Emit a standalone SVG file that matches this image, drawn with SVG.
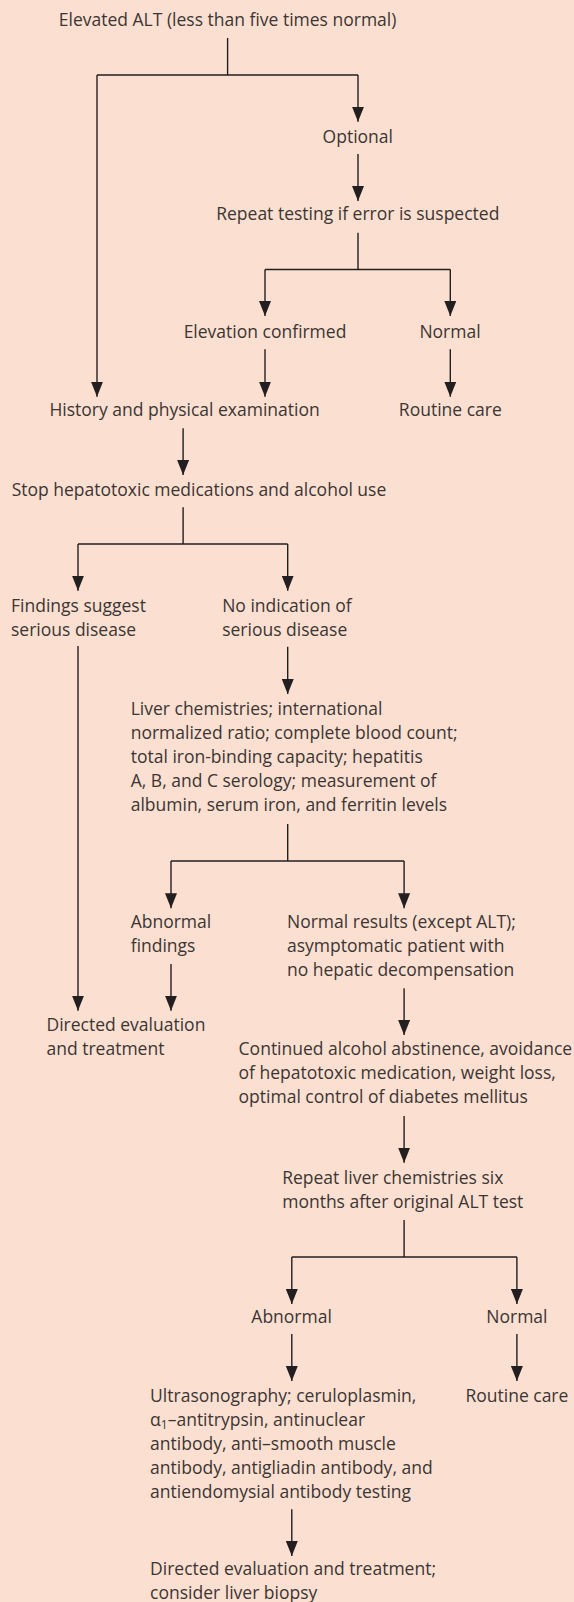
<svg xmlns="http://www.w3.org/2000/svg" width="574" height="1602" viewBox="0 0 574 1602">
<style>
text{font-family:"Open Sans","Noto Sans","Liberation Sans",sans-serif;font-size:17.5px;fill:#3b3533}
.c{text-anchor:middle}
.ln{fill:none;stroke:#231f20;stroke-width:1.4}
.ar{marker-end:url(#ah)}
</style>
<defs>
<marker id="ah" markerUnits="userSpaceOnUse" viewBox="0 0 15 12" markerWidth="15" markerHeight="12" refX="15" refY="6" orient="auto">
<path d="M0,0 L15,6 L0,12 z" fill="#231f20"/>
</marker>
</defs>
<rect width="574" height="1602" fill="#fbe0d1"/>
<g id="connectors">
<path class="ln" d="M227.6,38 V75 M97,75 H358 M358,232.7 V269.5 M265,269.5 H450.3 M183.1,507.3 V544 M78,544 H287.7 M287.7,824 V861 M171,861 H404.1 M404.1,1220 V1257 M291.8,1257 H516.9"/>
<path class="ln ar" d="M97,75 V396.7"/>
<path class="ln ar" d="M358,75 V121.7"/>
<path class="ln ar" d="M358,154 V201"/>
<path class="ln ar" d="M265,269.5 V316"/>
<path class="ln ar" d="M450.3,269.5 V316"/>
<path class="ln ar" d="M265,349.3 V396.7"/>
<path class="ln ar" d="M450.3,349.3 V396.7"/>
<path class="ln ar" d="M183.1,428.3 V475"/>
<path class="ln ar" d="M78,544 V590.7"/>
<path class="ln ar" d="M287.7,544 V590.7"/>
<path class="ln ar" d="M78,646 V1010.7"/>
<path class="ln ar" d="M287.7,646.7 V694"/>
<path class="ln ar" d="M171,861 V908.3"/>
<path class="ln ar" d="M404.1,861 V908.3"/>
<path class="ln ar" d="M171,964 V1010.7"/>
<path class="ln ar" d="M404.1,988.3 V1035"/>
<path class="ln ar" d="M404.1,1116 V1162.7"/>
<path class="ln ar" d="M291.8,1257 V1304"/>
<path class="ln ar" d="M516.9,1257 V1304"/>
<path class="ln ar" d="M291.8,1334 V1381"/>
<path class="ln ar" d="M516.9,1334 V1381"/>
<path class="ln ar" d="M291.8,1509.3 V1556"/>
</g>
<g id="n-elevated"><text class="c" x="227.6" y="26">Elevated ALT (less than five times normal)</text></g>
<g id="n-optional"><text class="c" x="357.8" y="142.7">Optional</text></g>
<g id="n-repeat"><text class="c" x="357.8" y="220">Repeat testing if error is suspected</text></g>
<g id="n-confirmed"><text class="c" x="265" y="338.3">Elevation confirmed</text></g>
<g id="n-normal1"><text class="c" x="450" y="338.3">Normal</text></g>
<g id="n-history"><text x="49.4" y="415.7">History and physical examination</text></g>
<g id="n-routine1"><text class="c" x="450.3" y="415.7">Routine care</text></g>
<g id="n-stop"><text x="11.7" y="496">Stop hepatotoxic medications and alcohol use</text></g>
<g id="n-findings"><text x="11" y="612">Findings suggest</text><text x="11" y="636">serious disease</text></g>
<g id="n-noind"><text x="222.2" y="612">No indication of</text><text x="222.2" y="636">serious disease</text></g>
<g id="n-liver"><text x="130.7" y="715">Liver chemistries; international</text><text x="130.7" y="739">normalized ratio; complete blood count;</text><text x="130.7" y="763">total iron-binding capacity; hepatitis</text><text x="130.7" y="787">A, B, and C serology; measurement of</text><text x="130.7" y="811">albumin, serum iron, and ferritin levels</text></g>
<g id="n-abnormal1"><text x="130.7" y="928.3">Abnormal</text><text x="130.7" y="952.3">findings</text></g>
<g id="n-normalres"><text x="287" y="928.3">Normal results (except ALT);</text><text x="287" y="952.3">asymptomatic patient with</text><text x="287" y="976.3">no hepatic decompensation</text></g>
<g id="n-directed1"><text x="46.5" y="1030.7">Directed evaluation</text><text x="46.5" y="1054.7">and treatment</text></g>
<g id="n-continued"><text x="238.6" y="1055">Continued alcohol abstinence, avoidance</text><text x="238.6" y="1079">of hepatotoxic medication, weight loss,</text><text x="238.6" y="1103">optimal control of diabetes mellitus</text></g>
<g id="n-repeatliver"><text x="282.2" y="1184">Repeat liver chemistries six</text><text x="282.2" y="1208">months after original ALT test</text></g>
<g id="n-abnormal2"><text class="c" x="291.6" y="1323.3">Abnormal</text></g>
<g id="n-normal2"><text class="c" x="516.9" y="1323.3">Normal</text></g>
<g id="n-ultra"><text x="150.1" y="1401.7">Ultrasonography; ceruloplasmin,</text><text x="150.1" y="1425.7">α<tspan font-size="12" dy="3">1</tspan><tspan dy="-3">–antitrypsin, antinuclear</tspan></text><text x="150.1" y="1449.7">antibody, anti–smooth muscle</text><text x="150.1" y="1473.7">antibody, antigliadin antibody, and</text><text x="150.1" y="1497.7">antiendomysial antibody testing</text></g>
<g id="n-routine2"><text class="c" x="516.9" y="1401.7">Routine care</text></g>
<g id="n-directed2"><text x="150.1" y="1575">Directed evaluation and treatment;</text><text x="150.1" y="1599">consider liver biopsy</text></g>
</svg>
